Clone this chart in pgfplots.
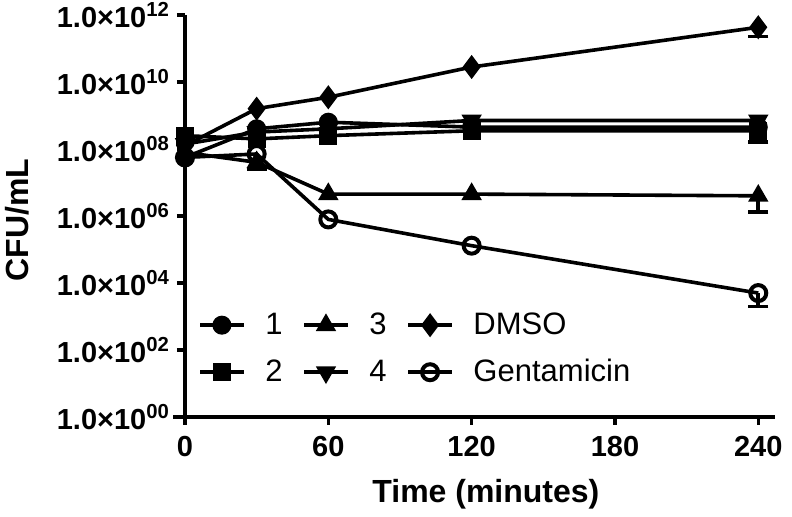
\documentclass[border=0pt]{standalone}
\usepackage{pgfplots}
\pgfplotsset{compat=1.18}
\usepackage{fontspec}
\setmainfont{Liberation Sans}
\begin{document}
\begin{tikzpicture}
\useasboundingbox (-92.5pt,-50pt) rectangle (303.5pt,208.5pt);
\begin{axis}[
  at={(0pt,0pt)}, anchor=south west,
  scale only axis, width=295pt, height=201pt,
  xmin=0, xmax=247, ymode=log, ymin=1, ymax=1e12,
  axis lines*=left,
  clip=false,
  axis line style={line width=1.7pt},
  tick style={line width=1.7pt, black},
  tick align=outside, major tick length=4pt,
  yminorticks=false, xminorticks=false,
  xtick={0,60,120,180,240},
  xticklabels={0,60,120,180,240},
  ytick={1,1e2,1e4,1e6,1e8,1e10,1e12},
  yticklabels={1.0×10\textsuperscript{00},1.0×10\textsuperscript{02},1.0×10\textsuperscript{04},1.0×10\textsuperscript{06},1.0×10\textsuperscript{08},1.0×10\textsuperscript{10},1.0×10\textsuperscript{12}},
  ticklabel style={font=\fontsize{14.5}{17}\selectfont\bfseries},
  xticklabel style={yshift=-2pt},
  xlabel={Time (minutes)},
  ylabel={CFU/mL},
  every axis x label/.style={at={(axis description cs:0.51,0)}, anchor=center, yshift=-38.5pt, font=\fontsize{16}{19}\selectfont\bfseries},
  every axis y label/.style={at={(axis description cs:-0.285,0.49)}, anchor=center, rotate=90, font=\fontsize{16}{19}\selectfont\bfseries},
  legend columns=2, transpose legend,
  legend cell align=left,
  legend style={at={(axis description cs:0.012,0.27)}, anchor=north west, draw=none, fill=none,
    font=\fontsize{15.5}{18}\selectfont, row sep=11pt, nodes={inner ysep=0pt},
    /tikz/every odd column/.append style={column sep=8pt},
    /tikz/every even column/.append style={column sep=8pt}},
  legend image code/.code={\draw[mark repeat=2, mark phase=2] plot coordinates {(0cm,0cm) (0.38cm,0cm) (0.76cm,0cm)};},
  error bars/error bar style={line width=1.8pt},
  error bars/error mark options={line width=1.8pt, mark size=5pt, rotate=90},
]
\draw[line width=1.7pt] (axis cs:-5,1) -- (axis cs:0,1);
% 1
\addplot[black, line width=1.8pt, mark=*, mark size=4pt, mark options={solid, line width=1.5pt}] coordinates {(0,5.6e7) (30,4.0e8) (60,6.3e8) (120,4.5e8) (240,4.5e8)};
% 2
\addplot[black, line width=1.8pt, mark=square*, mark size=3.7pt, mark options={solid, line width=1.5pt},
  error bars/.cd, y dir=minus, y explicit] coordinates {(0,2.5e8) (30,2.0e8) (60,2.5e8) (120,3.5e8) (240,3.5e8) -= (0,1.9e8)};
% 3
\addplot[black, line width=1.8pt, mark=triangle*, mark size=4.4pt, mark options={solid, line width=1.5pt},
  error bars/.cd, y dir=minus, y explicit] coordinates {(0,7.9e7) (30,4.0e7) -= (0,1.5e7) (60,4.5e6) (120,4.5e6) (240,4.0e6) -= (0,2.7e6)};
% 4
\addplot[black, line width=1.8pt, mark=triangle*, mark size=4.4pt, mark options={solid, line width=1.5pt, rotate=180}] coordinates {(0,1.4e8) (30,3.2e8) (60,4.0e8) (120,7.1e8) (240,7.1e8)};
% DMSO
\addplot[black, line width=1.8pt, mark=diamond*, mark size=4.8pt, mark options={solid, line width=1.5pt},
  error bars/.cd, y dir=minus, y explicit] coordinates {(0,1.26e8) (30,1.6e9) (60,3.5e9) (120,2.8e10) (240,4.3e11) -= (0,2.0e11)};
% Gentamicin
\addplot[black, line width=1.8pt, mark=o, mark size=4pt, mark options={solid, line width=2pt},
  error bars/.cd, y dir=minus, y explicit] coordinates {(0,5.6e7) (30,7.1e7) (60,7.9e5) (120,1.3e5) (240,5.0e3) -= (0,3.0e3)};
\legend{1,2,3,4,DMSO,Gentamicin}
\end{axis}
\end{tikzpicture}
\end{document}
